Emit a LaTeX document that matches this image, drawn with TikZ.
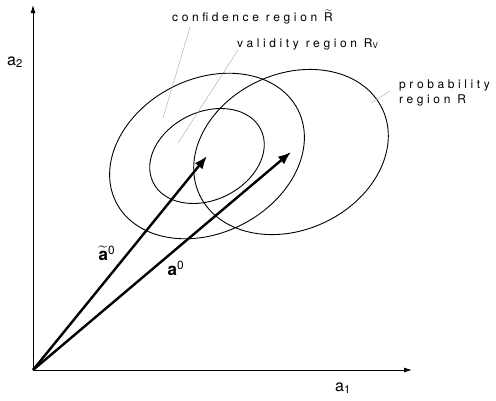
\documentclass[tikz,border=0pt]{standalone}
\usepackage{amsmath}
\usepackage{fontspec}
\setmainfont{TeX Gyre Heros}[LetterSpace=30]
\usetikzlibrary{arrows.meta}

\tikzset{
  axis/.style={line width=0.9pt, -{Latex[length=8pt, width=5pt]}},
  vect/.style={line width=2.4pt, -{Latex[length=13pt, width=10pt]}},
  region/.style={line width=0.9pt},
  leader/.style={line width=0.4pt, gray!70},
  lbl/.style={font=\fontsize{12}{15}\selectfont, inner sep=0pt},
  veclbl/.style={font=\fontsize{17}{17}\selectfont\bfseries, inner sep=0pt}
}

\begin{document}
\begin{tikzpicture}[x=1pt, y=-1pt]
  \useasboundingbox (0,0) rectangle (496,400);

  % axes
  \coordinate (O) at (33,370);
  \coordinate (ytop) at (33,5);
  \coordinate (xend) at (412,370);
  \draw[axis] (O) -- (ytop);
  \draw[axis] (O) -- (xend);
  \node[font=\fontsize{16}{16}\selectfont, inner sep=0pt] (a2) at (15,62) {a\textsubscript{2}};
  \node[font=\fontsize{16}{16}\selectfont, inner sep=0pt] (a1) at (343,388) {a\textsubscript{1}};

  % regions
  \coordinate (cconf) at (207,156);
  \coordinate (cprob) at (291,152);
  \draw[region, rotate around={27:(cconf)}] (cconf) ellipse [x radius=102, y radius=77];
  \draw[region, rotate around={26:(cconf)}] (cconf) ellipse [x radius=60, y radius=44];
  \draw[region, rotate around={25:(cprob)}] (cprob) ellipse [x radius=101, y radius=78];

  % vectors
  \draw[vect] (O) -- (cconf);
  \draw[vect] (O) -- (cprob);
  \node[veclbl] (atil) at (107,253) {$\widetilde{\textbf{a}}$\textsuperscript{\mdseries 0}};
  \node[veclbl] (a0) at (176,268) {a\textsuperscript{\mdseries 0}};

  % labels and leaders
  \node[lbl, anchor=west] (conf) at (172,17) {confidence region $\widetilde{\textrm{R}}$};
  \node[lbl, anchor=west] (valid) at (237,44) {validity region R\textsubscript{V}};
  \node[lbl, anchor=west, align=left] (prob) at (399,93) {probability\\region R};
  \coordinate (pconf) at (163,118);
  \coordinate (pvalid) at (178,143);
  \coordinate (pprob) at (371,103);
  \draw[leader] (190,27) -- (pconf);
  \draw[leader] (valid.west) ++(1,6) -- (pvalid);
  \draw[leader] (390,91) -- (pprob);
\end{tikzpicture}
\end{document}
